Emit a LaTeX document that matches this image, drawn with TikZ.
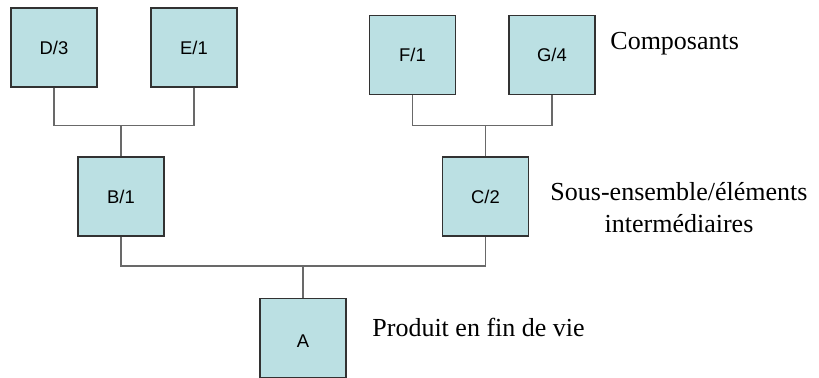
\documentclass[tikz,border=0pt]{standalone}
\usepackage{fontspec}
\setmainfont{Liberation Serif}
\newfontfamily\boxfont{Liberation Sans}
\definecolor{partfill}{RGB}{187,224,227}
\definecolor{partline}{RGB}{50,50,50}
\definecolor{linkgray}{RGB}{105,105,105}

\begin{document}
\begin{tikzpicture}[
			x=0.5pt, y=-0.5pt,
			part/.style={rectangle, draw=partline, fill=partfill, line width=0.6pt, minimum width=43pt, minimum height=39.5pt, inner sep=0pt, font=\boxfont\fontsize{9.2}{11}\selectfont},
			link/.style={-, draw=linkgray, line width=0.6pt},
			level/.style={inner sep=0pt, font=\fontsize{13}{16}\selectfont}
		]
		\useasboundingbox (0,0) rectangle (819,378);

		% Composants
		\node[part] (d) at (54,47.5) {D/3};
		\node[part] (e) at (194,47.5) {E/1};
		\node[part] (f) at (412.5,55.3) {F/1};
		\node[part] (g) at (552,55.3) {G/4};

		% Sous-ensembles
		\node[part] (b) at (121,196.5) {B/1};
		\node[part] (c) at (485.5,196.5) {C/2};

		% Produit
		\node[part, text height=9.5pt, text depth=0pt] (a) at (303,337.7) {A};

		% Liaisons
		\draw[link] (b.north) -- ++(0,-31) coordinate (jb);
		\draw[link] (d.south) |- (jb) -| (e.south);
		\draw[link] (c.north) -- ++(0,-31) coordinate (jc);
		\draw[link] (f.south) |- (jc) -| (g.south);
		\draw[link] (a.north) -- ++(0,-31.5) coordinate (ja);
		\draw[link] (b.south) |- (ja) -| (c.south);

		% Niveaux
		\node[level, anchor=base west] (lcomp) at (610,50) {Composants};
		\node[level, anchor=north, align=center] (lsous) at (679,182) {Sous-ensemble/éléments\\intermédiaires};
		\node[level, anchor=base west] (lprod) at (372,337) {Produit en fin de vie};

	\end{tikzpicture}
\end{document}
